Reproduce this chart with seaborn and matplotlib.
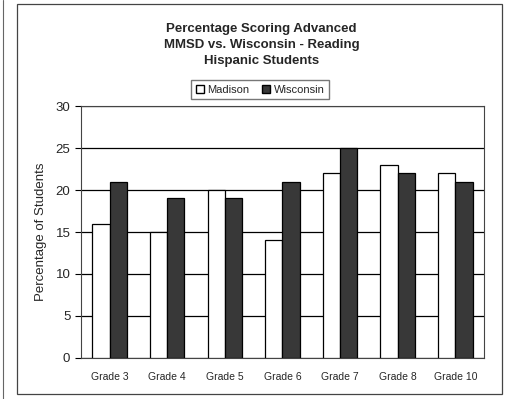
import pandas as pd
import numpy as np
import matplotlib.pyplot as plt
import seaborn as sns
from matplotlib.patches import Rectangle
from matplotlib.lines import Line2D

grades = ['Grade 3', 'Grade 4', 'Grade 5', 'Grade 6', 'Grade 7', 'Grade 8', 'Grade 10']
madison = [16, 15, 20, 14, 22, 23, 22]
wisconsin = [21, 19, 19, 21, 25, 22, 21]
series = ['Madison', 'Wisconsin']

df = pd.DataFrame({'grade': grades * 2,
                   'pct': madison + wisconsin,
                   'who': ['Madison'] * len(grades) + ['Wisconsin'] * len(grades)})

sns.set_style('white')
plt.rcParams['font.family'] = ['Liberation Sans', 'DejaVu Sans']

fig = plt.figure(figsize=(5.08, 3.99), dpi=100)
ax = fig.add_axes([0.159, 0.103, 0.794, 0.631])

sns.barplot(data=df, x='grade', y='pct', hue='who', palette=['white', '#383838'],
            edgecolor='black', linewidth=0.9, width=0.6, ax=ax, legend=False, zorder=3)

ax.set_ylim(0, 30)
ax.set_xlim(-0.5, len(grades) - 0.5)
ax.set_yticks(range(0, 31, 5))
ax.yaxis.grid(True, color='black', linewidth=0.9, zorder=0)
ax.set_axisbelow(True)
for s in ax.spines.values():
    s.set_color('#444444')
    s.set_linewidth(0.8)
ax.set_xticks(np.arange(len(grades)))
ax.set_xticklabels(grades, fontsize=7.5)
ax.set_xticks(np.arange(-0.5, len(grades)), minor=True)
ax.tick_params(axis='x', which='major', length=0, pad=10)
ax.tick_params(axis='x', which='minor', length=4, direction='out', color='black')
ax.tick_params(axis='y', length=4, direction='out', labelsize=9.5, color='black', left=True)
ax.set_xlabel('')
ax.set_ylabel('Percentage of Students', fontsize=9.5, labelpad=6)

fig.text(0.515, 0.887, 'Percentage Scoring Advanced\nMMSD vs. Wisconsin - Reading\nHispanic Students',
         ha='center', va='center', fontsize=9.5, fontweight='bold', linespacing=1.4)

handles = [Rectangle((0, 0), 1, 1, facecolor='white', edgecolor='black'),
           Rectangle((0, 0), 1, 1, facecolor='#383838', edgecolor='black')]
fig.legend(handles, series, loc='center', bbox_to_anchor=(0.512, 0.775), ncol=2,
           fontsize=8, frameon=True, fancybox=False, edgecolor='#555555',
           handlelength=0.7, handleheight=0.7, handletextpad=0.3, columnspacing=1.2,
           borderpad=0.4)

fig.patches.append(Rectangle((0.034, 0.012), 0.954, 0.978, transform=fig.transFigure,
                             fill=False, edgecolor='#444444', linewidth=0.9))
fig.lines.append(Line2D([0.006, 0.006], [0.0, 1.0], transform=fig.transFigure,
                        color='#666666', linewidth=0.8))

fig.savefig('out.png', dpi=100)
